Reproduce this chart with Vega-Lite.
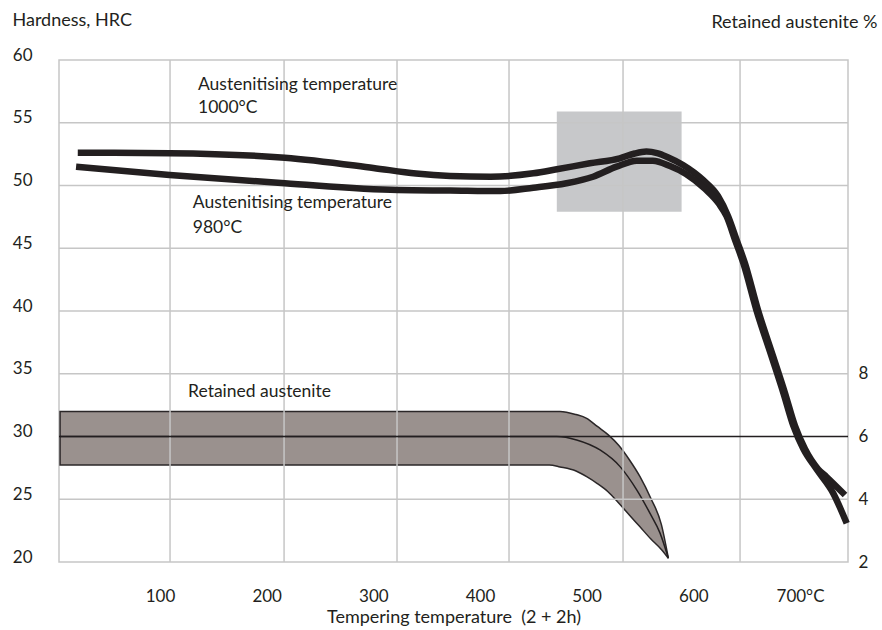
{
  "$schema": "https://vega.github.io/schema/vega-lite/v6.json",
  "width": 789,
  "height": 502,
  "autosize": "none",
  "padding": {"left": 59, "top": 60, "right": 34, "bottom": 68},
  "background": "white",
  "config": {
    "view": {"stroke": "#c6c6c6", "strokeWidth": 1.5},
    "font": "Lato",
    "axis": {
      "labelFont": "Lato", "titleFont": "Lato",
      "labelColor": "#231f20", "titleColor": "#231f20",
      "labelFontSize": 17, "titleFontSize": 18, "titleFontWeight": "normal",
      "domain": false, "ticks": false, "grid": false
    }
  },
  "datasets": {
    "box": [{"T0": 472, "T1": 589, "H0": 47.9, "H1": 55.9}],
    "band": [
      {"T": 6.3, "top": 6.8, "bot": 5.09},
      {"T": 465, "top": 6.8, "bot": 5.09},
      {"T": 475, "top": 6.8, "bot": 5.03},
      {"T": 490, "top": 6.7, "bot": 4.9},
      {"T": 500, "top": 6.58, "bot": 4.72},
      {"T": 510, "top": 6.32, "bot": 4.5},
      {"T": 520, "top": 6.06, "bot": 4.24},
      {"T": 530, "top": 5.72, "bot": 3.88},
      {"T": 540, "top": 5.26, "bot": 3.5},
      {"T": 550, "top": 4.72, "bot": 3.12},
      {"T": 560, "top": 4.04, "bot": 2.74},
      {"T": 570, "top": 3.2, "bot": 2.4},
      {"T": 576.6, "top": 2.12, "bot": 2.12}
    ],
    "mid": [
      {"T": 6.3, "pct": 6.0},
      {"T": 472, "pct": 6.0},
      {"T": 490.6, "pct": 5.89},
      {"T": 512.5, "pct": 5.57},
      {"T": 531.3, "pct": 5.04},
      {"T": 546.9, "pct": 4.3},
      {"T": 559.4, "pct": 3.55},
      {"T": 568.8, "pct": 2.92},
      {"T": 576.6, "pct": 2.12}
    ],
    "vgrid": [{"g": 109.4}, {"g": 216.3}, {"g": 322.2}, {"g": 427.2}, {"g": 534.1}, {"g": 643.8}],
    "hgrid": [{"g": 25}, {"g": 35}, {"g": 40}, {"g": 45}, {"g": 50}, {"g": 55}],
    "curves": [
      {"curve": "1000", "T": 22.9, "H": 52.61},
      {"curve": "1000", "T": 109, "H": 52.57},
      {"curve": "1000", "T": 217, "H": 52.22},
      {"curve": "1000", "T": 300, "H": 51.4},
      {"curve": "1000", "T": 340, "H": 50.95},
      {"curve": "1000", "T": 372, "H": 50.76},
      {"curve": "1000", "T": 410, "H": 50.7},
      {"curve": "1000", "T": 450, "H": 50.97},
      {"curve": "1000", "T": 472, "H": 51.29},
      {"curve": "1000", "T": 503, "H": 51.77},
      {"curve": "1000", "T": 531, "H": 52.17},
      {"curve": "1000", "T": 545, "H": 52.55},
      {"curve": "1000", "T": 556, "H": 52.7},
      {"curve": "1000", "T": 566, "H": 52.58},
      {"curve": "1000", "T": 575, "H": 52.3},
      {"curve": "1000", "T": 590.3, "H": 51.63},
      {"curve": "1000", "T": 609.1, "H": 50.44},
      {"curve": "1000", "T": 623.1, "H": 49.16},
      {"curve": "1000", "T": 632.5, "H": 47.57},
      {"curve": "1000", "T": 640.9, "H": 45.59},
      {"curve": "1000", "T": 648.4, "H": 43.8},
      {"curve": "1000", "T": 660.6, "H": 40.08},
      {"curve": "1000", "T": 674.7, "H": 36.41},
      {"curve": "1000", "T": 685.9, "H": 33.47},
      {"curve": "1000", "T": 695.3, "H": 30.84},
      {"curve": "1000", "T": 704.7, "H": 29.0},
      {"curve": "1000", "T": 716.9, "H": 27.41},
      {"curve": "1000", "T": 725, "H": 26.77},
      {"curve": "1000", "T": 742.2, "H": 25.34},
      {"curve": "980", "T": 21.3, "H": 51.5},
      {"curve": "980", "T": 109, "H": 50.84},
      {"curve": "980", "T": 217, "H": 50.18},
      {"curve": "980", "T": 323, "H": 49.64},
      {"curve": "980", "T": 372, "H": 49.6},
      {"curve": "980", "T": 419, "H": 49.56},
      {"curve": "980", "T": 450, "H": 49.82},
      {"curve": "980", "T": 481, "H": 50.18},
      {"curve": "980", "T": 506, "H": 50.7},
      {"curve": "980", "T": 528, "H": 51.5},
      {"curve": "980", "T": 547, "H": 51.98},
      {"curve": "980", "T": 562, "H": 51.98},
      {"curve": "980", "T": 578.1, "H": 51.55},
      {"curve": "980", "T": 593.1, "H": 50.92},
      {"curve": "980", "T": 611, "H": 49.72},
      {"curve": "980", "T": 624.1, "H": 48.53},
      {"curve": "980", "T": 631.0, "H": 47.57},
      {"curve": "980", "T": 639.4, "H": 45.59},
      {"curve": "980", "T": 646.9, "H": 43.8},
      {"curve": "980", "T": 659.1, "H": 40.08},
      {"curve": "980", "T": 673.2, "H": 36.41},
      {"curve": "980", "T": 684.4, "H": 33.47},
      {"curve": "980", "T": 693.8, "H": 30.84},
      {"curve": "980", "T": 703.2, "H": 29.0},
      {"curve": "980", "T": 715.4, "H": 27.41},
      {"curve": "980", "T": 731.2, "H": 25.47},
      {"curve": "980", "T": 743.8, "H": 23.08}
    ],
    "labels": [
      {"T": 135.6, "H": 58.0, "text": "Austenitising temperature"},
      {"T": 135.6, "H": 56.18, "text": "1000°C"},
      {"T": 130.7, "H": 48.63, "text": "Austenitising temperature"},
      {"T": 130.7, "H": 46.6, "text": "980°C"},
      {"T": 126.3, "H": 33.57, "text": "Retained austenite"}
    ]
  },
  "layer": [
    {
      "data": {"name": "box"},
      "mark": {"type": "rect", "fill": "#c7c8ca"},
      "encoding": {
        "x": {"field": "T0", "type": "quantitative", "scale": {"domain": [5.3, 745], "nice": false, "zero": false},
          "axis": {"values": [100, 200, 300, 400, 500, 600, 700], "labelExpr": "datum.value == 700 ? '700°C' : datum.label", "title": "Tempering temperature \u00a0(2 + 2h)", "labelPadding": 26, "titlePadding": 4, "labelFlush": false}},
        "x2": {"field": "T1"},
        "y": {"field": "H0", "type": "quantitative", "scale": {"domain": [20, 60], "nice": false, "zero": false},
          "axis": {"orient": "left", "values": [20, 25, 30, 35, 40, 45, 50, 55, 60], "labelPadding": 27, "labelOffset": -5,
            "title": "Hardness, HRC", "titleAngle": 0, "titleX": -47, "titleY": -40, "titleAlign": "left", "titleBaseline": "middle"}},
        "y2": {"field": "H1"}
      }
    },
    {
      "layer": [
        {
          "data": {"name": "band"},
          "mark": {"type": "area", "fill": "#9a918e", "stroke": "#2b2728", "strokeWidth": 1.5, "interpolate": "monotone"},
          "encoding": {
            "x": {"field": "T", "type": "quantitative", "scale": {"domain": [5.3, 745], "nice": false, "zero": false},
              "axis": {"values": [100, 200, 300, 400, 500, 600, 700], "labelExpr": "datum.value == 700 ? '700°C' : datum.label", "title": "Tempering temperature \u00a0(2 + 2h)", "labelPadding": 26, "titlePadding": 4, "labelFlush": false}},
            "y": {"field": "top", "type": "quantitative", "scale": {"domain": [2, 18], "nice": false, "zero": false},
              "axis": {"orient": "right", "values": [2, 4, 6, 8], "labelPadding": 10,
                "title": "Retained austenite %", "titleAngle": 0, "titleX": 29, "titleY": -38, "titleAlign": "right", "titleBaseline": "middle"}},
            "y2": {"field": "bot"}
          }
        },
        {
          "data": {"name": "mid"},
          "mark": {"type": "line", "stroke": "#231f20", "strokeWidth": 1.5, "interpolate": "monotone"},
          "encoding": {
            "x": {"field": "T", "type": "quantitative", "scale": {"domain": [5.3, 745], "nice": false, "zero": false},
              "axis": {"values": [100, 200, 300, 400, 500, 600, 700], "labelExpr": "datum.value == 700 ? '700°C' : datum.label", "title": "Tempering temperature \u00a0(2 + 2h)", "labelPadding": 26, "titlePadding": 4, "labelFlush": false}},
            "y": {"field": "pct", "type": "quantitative", "scale": {"domain": [2, 18], "nice": false, "zero": false}}
          }
        }
      ]
    },
    {
      "layer": [
        {
          "data": {"name": "vgrid"},
          "mark": {"type": "rule", "stroke": "#c6c6c6", "strokeWidth": 1.5},
          "encoding": {
            "x": {"field": "g", "type": "quantitative", "scale": {"domain": [5.3, 745], "nice": false, "zero": false},
              "axis": {"values": [100, 200, 300, 400, 500, 600, 700], "labelExpr": "datum.value == 700 ? '700°C' : datum.label", "title": "Tempering temperature \u00a0(2 + 2h)", "labelPadding": 26, "titlePadding": 4, "labelFlush": false}}
          }
        },
        {
          "data": {"name": "hgrid"},
          "mark": {"type": "rule", "stroke": "#c6c6c6", "strokeWidth": 1.5},
          "encoding": {
            "y": {"field": "g", "type": "quantitative", "scale": {"domain": [20, 60], "nice": false, "zero": false}, "axis": null}
          }
        },
        {
          "data": {"values": [{"H": 30}]},
          "mark": {"type": "rule", "stroke": "#231f20", "strokeWidth": 1.5},
          "encoding": {
            "y": {"field": "H", "type": "quantitative", "scale": {"domain": [20, 60], "nice": false, "zero": false}, "axis": null}
          }
        },
        {
          "data": {"name": "curves"},
          "mark": {"type": "line", "stroke": "#231f20", "strokeWidth": 6.5, "interpolate": "monotone", "strokeCap": "butt"},
          "encoding": {
            "x": {"field": "T", "type": "quantitative", "scale": {"domain": [5.3, 745], "nice": false, "zero": false},
              "axis": {"values": [100, 200, 300, 400, 500, 600, 700], "labelExpr": "datum.value == 700 ? '700°C' : datum.label", "title": "Tempering temperature \u00a0(2 + 2h)", "labelPadding": 26, "titlePadding": 4, "labelFlush": false}},
            "y": {"field": "H", "type": "quantitative", "scale": {"domain": [20, 60], "nice": false, "zero": false}, "axis": null},
            "detail": {"field": "curve"}
          }
        },
        {
          "data": {"name": "labels"},
          "mark": {"type": "text", "font": "Lato", "fontSize": 17.5, "color": "#231f20", "align": "left", "baseline": "middle"},
          "encoding": {
            "x": {"field": "T", "type": "quantitative", "scale": {"domain": [5.3, 745], "nice": false, "zero": false},
              "axis": {"values": [100, 200, 300, 400, 500, 600, 700], "labelExpr": "datum.value == 700 ? '700°C' : datum.label", "title": "Tempering temperature \u00a0(2 + 2h)", "labelPadding": 26, "titlePadding": 4, "labelFlush": false}},
            "y": {"field": "H", "type": "quantitative", "scale": {"domain": [20, 60], "nice": false, "zero": false}, "axis": null},
            "text": {"field": "text"}
          }
        }
      ]
    }
  ],
  "resolve": {"scale": {"y": "independent"}}
}
